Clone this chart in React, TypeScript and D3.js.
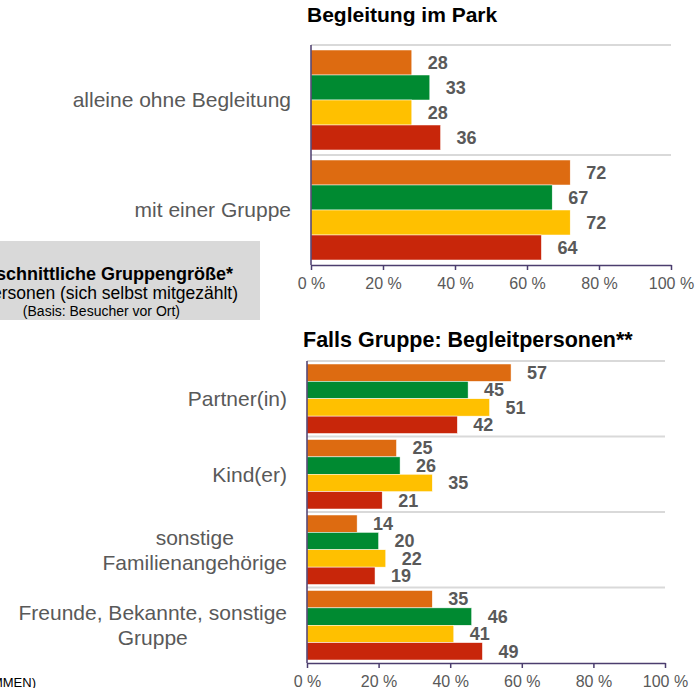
import React, { useEffect, useRef } from "react";
import * as d3 from "d3";

const seriesKeys = ["s1", "s2", "s3", "s4"];
const seriesColors = ["#DD6B11", "#008A31", "#FFC000", "#C8260A"];

const topCategories = ["alleine ohne Begleitung", "mit einer Gruppe"];
const topS1 = [28, 72];
const topS2 = [33, 67];
const topS3 = [28, 72];
const topS4 = [36, 64];

const bottomCategories = [
  ["Partner(in)"],
  ["Kind(er)"],
  ["sonstige", "Familienangehörige"],
  ["Freunde, Bekannte, sonstige", "Gruppe"],
];
const bottomS1 = [57, 25, 14, 35];
const bottomS2 = [45, 26, 20, 46];
const bottomS3 = [51, 35, 22, 41];
const bottomS4 = [42, 21, 19, 49];

const ticks = [0, 20, 40, 60, 80, 100];

const FONT = "Arial, 'Liberation Sans', sans-serif";
const AXIS_COLOR = "#4B3D6E";
const LABEL_COLOR = "#595959";

const drawPanel = (svg: any, opts: any) => {
  const { title, titleSize, categories, series, left, right, top, bottom, pad, titleY } = opts;

  const g = svg.append("g");
  const x = d3.scaleLinear().domain([0, 100]).range([left, right]);
  const y = d3.scaleBand().domain(categories.map((_: any, i: number) => String(i))).range([top, bottom]);

  g.append("text")
    .attr("x", left - 4)
    .attr("y", titleY)
    .attr("font-family", FONT)
    .attr("font-weight", "bold")
    .attr("font-size", titleSize)
    .attr("fill", "#000")
    .text(title);

  // category separators
  g.selectAll("line.grid")
    .data(categories.map((_: any, i: number) => i))
    .enter()
    .append("line")
    .attr("x1", left)
    .attr("x2", right)
    .attr("y1", (i: number) => (y(String(i)) as number))
    .attr("y2", (i: number) => (y(String(i)) as number))
    .attr("stroke", "#D9D9D9")
    .attr("stroke-width", 2);

  categories.forEach((cat: any, ci: number) => {
    const b0 = y(String(ci)) as number;
    const inner = d3.scaleBand().domain(seriesKeys).range([b0 + pad, b0 + y.bandwidth() - pad]);

    seriesKeys.forEach((k, si) => {
      const v = series[si][ci];
      g.append("rect")
        .attr("x", x(0))
        .attr("y", inner(k) as number)
        .attr("width", x(v) - x(0))
        .attr("height", inner.bandwidth())
        .attr("fill", seriesColors[si])
        .attr("stroke", "#fff")
        .attr("stroke-width", 0.5);

      g.append("text")
        .attr("x", x(v) + 16)
        .attr("y", (inner(k) as number) + inner.bandwidth() / 2)
        .attr("dy", "0.35em")
        .attr("font-family", FONT)
        .attr("font-weight", "bold")
        .attr("font-size", 18)
        .attr("fill", LABEL_COLOR)
        .text(v);
    });

    // category label, multi-line centred, right edge at left - 20
    const lines: string[] = Array.isArray(cat) ? cat : [cat];
    const cy = b0 + y.bandwidth() / 2;
    const lineH = 25;
    const lg = g.append("g");
    const texts = lines.map((ln, li) =>
      lg
        .append("text")
        .attr("y", cy + (li - (lines.length - 1) / 2) * lineH)
        .attr("dy", "0.35em")
        .attr("font-family", FONT)
        .attr("font-size", 21)
        .attr("fill", LABEL_COLOR)
        .attr("text-anchor", "middle")
        .text(ln)
    );
    const widths = texts.map((t) => (t.node() as SVGTextElement).getComputedTextLength());
    const maxW = d3.max(widths) as number;
    texts.forEach((t) => t.attr("x", left - 20 - maxW / 2));
  });

  // left axis line
  g.append("line")
    .attr("x1", left)
    .attr("x2", left)
    .attr("y1", top)
    .attr("y2", bottom)
    .attr("stroke", AXIS_COLOR)
    .attr("stroke-width", 1.5);

  const axis = d3
    .axisBottom(x)
    .tickValues(ticks)
    .tickSize(5)
    .tickSizeOuter(0)
    .tickPadding(8)
    .tickFormat((d: any) => `${d} %`);

  const ax = g.append("g").attr("transform", `translate(0,${bottom})`).call(axis);
  ax.select(".domain").attr("stroke", AXIS_COLOR).attr("stroke-width", 1.5);
  ax.selectAll(".tick line").attr("stroke", AXIS_COLOR).attr("stroke-width", 1.5);
  ax.selectAll(".tick text")
    .attr("font-family", FONT)
    .attr("font-size", 16)
    .attr("fill", LABEL_COLOR);
};

const App = () => {
  const ref = useRef<SVGSVGElement>(null);

  useEffect(() => {
    if (!ref.current) return;
    const svg = d3.select(ref.current);
    svg.selectAll("*").remove();

    // info box on the left (partly outside the picture)
    svg.append("rect").attr("x", -10).attr("y", 241).attr("width", 270).attr("height", 79).attr("fill", "#D9D9D9");
    svg.append("text")
      .attr("x", 233)
      .attr("y", 280)
      .attr("text-anchor", "end")
      .attr("font-family", FONT)
      .attr("font-weight", "bold")
      .attr("font-size", 18)
      .attr("fill", "#000")
      .text("Durchschnittliche Gruppengröße*");
    svg.append("text")
      .attr("x", 238)
      .attr("y", 299)
      .attr("text-anchor", "end")
      .attr("font-family", FONT)
      .attr("font-size", 17.5)
      .attr("fill", "#000")
      .text("Personen (sich selbst mitgezählt)");
    svg.append("text")
      .attr("x", 180)
      .attr("y", 316)
      .attr("text-anchor", "end")
      .attr("font-family", FONT)
      .attr("font-size", 14)
      .attr("fill", "#000")
      .text("(Basis: Besucher vor Ort)");

    svg.append("text")
      .attr("x", 36)
      .attr("y", 687)
      .attr("text-anchor", "end")
      .attr("font-family", FONT)
      .attr("font-size", 13)
      .attr("fill", "#000")
      .text("(ALLE PARKS ZUSAMMEN)");

    drawPanel(svg, {
      title: "Begleitung im Park",
      titleSize: 21,
      categories: topCategories,
      series: [topS1, topS2, topS3, topS4],
      left: 311,
      right: 671,
      top: 45,
      bottom: 265,
      pad: 5,
      titleY: 22,
    });

    drawPanel(svg, {
      title: "Falls Gruppe: Begleitpersonen**",
      titleSize: 21.5,
      categories: bottomCategories,
      series: [bottomS1, bottomS2, bottomS3, bottomS4],
      left: 307,
      right: 665,
      top: 361,
      bottom: 663,
      pad: 3,
      titleY: 347,
    });
  }, []);

  return (
    <svg
      ref={ref}
      width={697}
      height={688}
      style={{ position: "absolute", left: 0, top: 0, background: "#fff" }}
    />
  );
};

export default App;
